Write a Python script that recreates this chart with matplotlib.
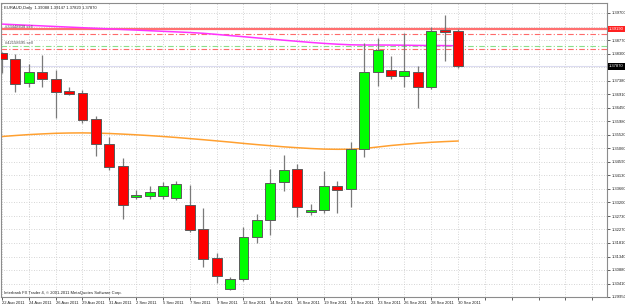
import matplotlib
matplotlib.use("Agg")
import matplotlib.pyplot as plt

plt.rcParams['font.family'] = ['Liberation Sans', 'DejaVu Sans']

# EURAUD daily bars, 22 Aug - 30 Sep 2011 (broker with Sunday bars)
dates = ["22 Aug", "23 Aug", "24 Aug", "25 Aug", "26 Aug", "28 Aug", "29 Aug",
         "30 Aug", "31 Aug", "1 Sep", "2 Sep", "4 Sep", "5 Sep", "6 Sep", "7 Sep",
         "8 Sep", "9 Sep", "11 Sep", "12 Sep", "13 Sep", "14 Sep", "15 Sep",
         "16 Sep", "18 Sep", "19 Sep", "20 Sep", "21 Sep", "22 Sep", "23 Sep",
         "25 Sep", "26 Sep", "27 Sep", "28 Sep", "29 Sep", "30 Sep"]
opens = [1.38327, 1.38121, 1.37297, 1.37674, 1.37434, 1.37022, 1.36953, 1.36061,
         1.35203, 1.34447, 1.33383, 1.33417, 1.33417, 1.33349, 1.33108, 1.32284,
         1.31289, 1.30225, 1.30568, 1.32010, 1.32593, 1.33898, 1.34344, 1.32868,
         1.32937, 1.33761, 1.33658, 1.35031, 1.37674, 1.37743, 1.37537, 1.37674,
         1.37159, 1.39116, 1.39088]
highs = [1.38361, 1.38292, 1.37949, 1.38264, 1.37743, 1.37159, 1.37056, 1.36164,
         1.35443, 1.34722, 1.33624, 1.33761, 1.33898, 1.33932, 1.33795, 1.33005,
         1.31461, 1.30637, 1.32353, 1.32800, 1.34344, 1.34825, 1.34516, 1.33143,
         1.34276, 1.33932, 1.35271, 1.38670, 1.38841, 1.38224, 1.39013, 1.37880,
         1.39219, 1.39631, 1.39147]
lows = [1.37640, 1.36988, 1.37159, 1.37159, 1.36095, 1.36885, 1.35923, 1.34790,
        1.34310, 1.32628, 1.33314, 1.33314, 1.33314, 1.33280, 1.32181, 1.30980,
        1.30431, 1.30190, 1.30499, 1.31804, 1.32079, 1.33589, 1.32697, 1.32765,
        1.32834, 1.32834, 1.33040, 1.34756, 1.37194, 1.37434, 1.37159, 1.36438,
        1.37091, 1.38052, 1.37820]
closes = [1.38121, 1.37262, 1.37674, 1.37434, 1.36988, 1.36919, 1.36026, 1.35203,
          1.34413, 1.33108, 1.33452, 1.33555, 1.33761, 1.33829, 1.32250, 1.31254,
          1.30671, 1.30568, 1.32010, 1.32593, 1.33864, 1.34310, 1.33040, 1.32937,
          1.33761, 1.33624, 1.35031, 1.37674, 1.38430, 1.37537, 1.37708, 1.37159,
          1.39082, 1.39047, 1.37870]

ma_slow = [1.39319, 1.39298, 1.39277, 1.39257, 1.39236, 1.39216, 1.39195, 1.39174,
           1.39154, 1.39133, 1.39113, 1.39092, 1.39071, 1.39051, 1.39030, 1.39003,
           1.38965, 1.38924, 1.38886, 1.38845, 1.38807, 1.38766, 1.38728, 1.38690,
           1.38656, 1.38629, 1.38608, 1.38601, 1.38601, 1.38598, 1.38594, 1.38587,
           1.38584, 1.38581, 1.38577]
ma_fast = [1.35460, 1.35494, 1.35525, 1.35549, 1.35570, 1.35580, 1.35584, 1.35577,
           1.35563, 1.35542, 1.35518, 1.35491, 1.35460, 1.35426, 1.35388, 1.35350,
           1.35309, 1.35268, 1.35223, 1.35182, 1.35144, 1.35106, 1.35075, 1.35048,
           1.35027, 1.35021, 1.35024, 1.35048, 1.35099, 1.35151, 1.35192, 1.35230,
           1.35261, 1.35285, 1.35305]

order_lines = [1.39150, 1.38979, 1.38567, 1.38454]
bid = 1.37870

# labels hidden behind the price boxes are left blank
price_ticks = ["1.29950", "1.30410", "1.30880", "1.31340", "1.31810", "1.32270",
               "1.32730", "1.33200", "1.33660", "1.34130", "1.34590", "1.35060",
               "1.35520", "1.35980", "1.36450", "1.36910", "1.37380", "1.37840",
               "1.38300", "1.38770", "1.39230", "1.39700"]
hidden_ticks = ["1.37840", "1.39230"]

FS = 3.0


def main():
    fig = plt.figure(figsize=(6.25, 3.04), dpi=100)
    fig.patch.set_facecolor("white")
    ax = fig.add_axes([1 / 625, 7 / 304, 606 / 625, 294 / 304])
    ax.set_xlim(-0.075, 45.1)
    ax.set_ylim(1.29950, 1.40043)

    n = len(opens)
    xs = list(range(n))
    # wicks
    ax.vlines(xs, lows, highs, color="#7a7a7a", linewidth=0.9, zorder=3)
    # bodies
    for i in xs:
        o, c = opens[i], closes[i]
        col = "#00ff00" if c >= o else "#ff0000"
        h = max(abs(c - o), 0.00006)
        ax.bar(i, h, bottom=min(o, c), width=0.74, color=col,
               edgecolor="#5a5a5a", linewidth=0.7, zorder=4)

    # moving averages
    ax.plot(xs, ma_slow, color="#ff33ff", linewidth=1.1, zorder=2)
    ax.plot(xs, ma_fast, color="#ffa030", linewidth=1.1, zorder=2)

    # order levels
    dash = (0, (5, 2, 1, 2))
    ax.axhline(order_lines[0], color="#ff7070", linewidth=1.6, zorder=1)
    ax.axhline(order_lines[1], color="#ff6a6a", linewidth=0.8, linestyle=dash, zorder=1)
    ax.axhline(order_lines[2], color="#88e088", linewidth=0.8, linestyle=dash, zorder=1)
    ax.axhline(order_lines[3], color="#ff6a6a", linewidth=0.8, linestyle=dash, zorder=1)
    ax.axhline(bid, color="#dcdcf0", linewidth=0.8, zorder=1)
    ax.text(2.5 / 13.41, order_lines[0] + 0.0001, "#33448838 sell", fontsize=FS,
            color="#505050", va="bottom", ha="left", zorder=5)
    ax.text(2.5 / 13.41, order_lines[2] + 0.0003, "#42158695 sell", fontsize=FS,
            color="#505050", va="bottom", ha="left", zorder=5)

    # date scale and grid
    ax.set_xticks(range(0, 46, 2))
    labels = []
    for k in range(0, 46, 2):
        labels.append(dates[k] + " 2011" if k < n else "")
    ax.set_xticklabels(labels, ha="left")
    ax.set_yticks([float(t) for t in price_ticks])
    ax.set_yticklabels(["" if t in hidden_ticks else t for t in price_ticks])
    ax.yaxis.tick_right()
    ax.tick_params(axis="both", labelsize=FS, length=2, width=0.5,
                   colors="#202020", pad=1.2)
    ax.grid(True, color="#c8c8c8", linestyle=(0, (1, 2)), linewidth=0.6)
    ax.set_axisbelow(True)
    for s in ax.spines.values():
        s.set_color("#8c8c8c")
        s.set_linewidth(0.8)

    # price boxes on the right scale
    ax.text(1.003, order_lines[0], "1.39190", transform=ax.get_yaxis_transform(),
            fontsize=FS, color="white", va="center", ha="left", zorder=6,
            bbox=dict(boxstyle="square,pad=0.3", fc="#ff2020", ec="none"),
            clip_on=False)
    ax.text(1.003, bid, "1.37870", transform=ax.get_yaxis_transform(),
            fontsize=FS, color="white", va="center", ha="left", zorder=6,
            bbox=dict(boxstyle="square,pad=0.3", fc="black", ec="none"),
            clip_on=False)

    fig.text(4 / 625, 1 - 6 / 304,
             "EURAUD,Daily  1.39088 1.39147 1.37820 1.37870",
             fontsize=FS, color="#202020", va="top", ha="left")
    fig.text(4 / 625, 1 - 295 / 304,
             "Interbank FX Trader 4, \u00a9 2001-2011 MetaQuotes Software Corp.",
             fontsize=FS, color="#202020", va="bottom", ha="left")

    fig.savefig("out.png", dpi=100, facecolor="white")


if __name__ == "__main__":
    main()
